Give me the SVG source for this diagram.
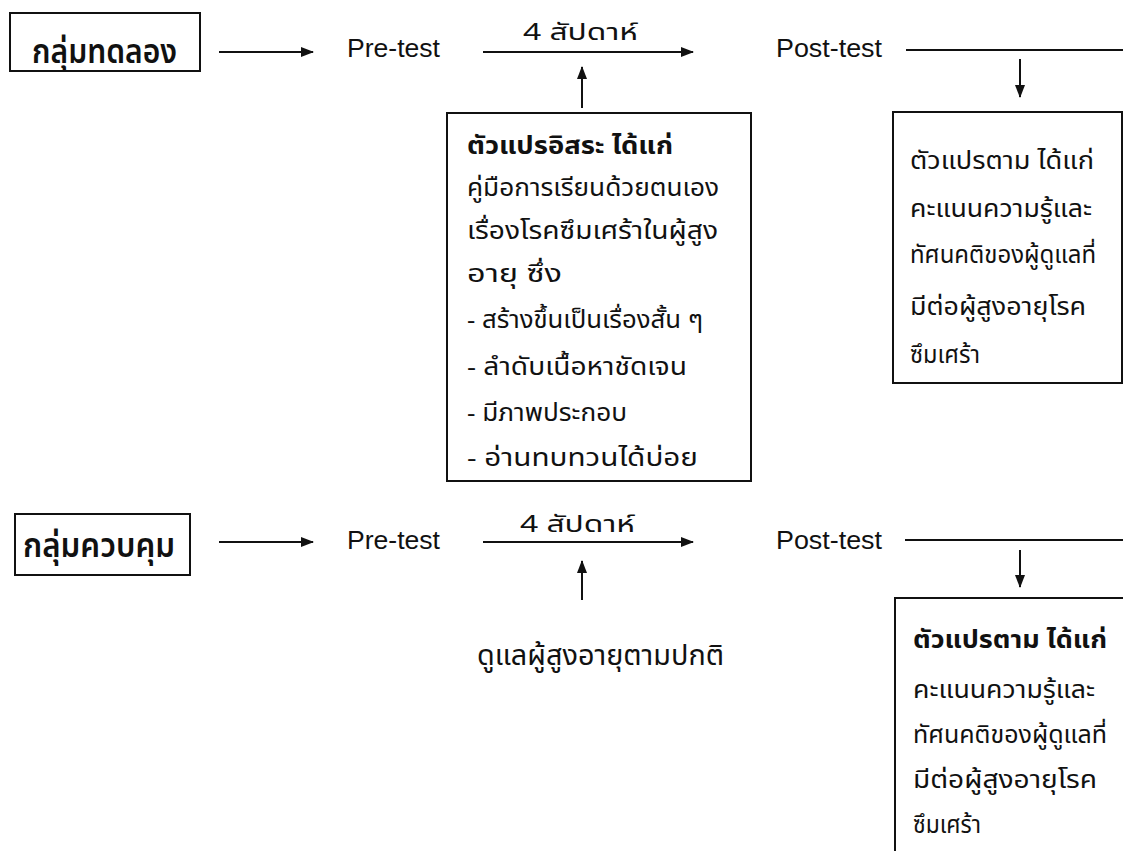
<svg xmlns="http://www.w3.org/2000/svg" width="1123" height="851" viewBox="0 0 1123 851">
<style>
.t{font-family:"Noto Sans Thai","Noto Sans","Liberation Sans","DejaVu Sans",sans-serif;fill:#111;}
.lat{font-family:"Liberation Sans",Arial,sans-serif;fill:#111;font-size:26px;}
.lbl{font-size:34px;font-weight:600;}
.b{font-size:24px;}
.bb{font-size:24px;font-weight:bold;}
.wk{font-size:23px;}
.box{fill:none;stroke:#111;stroke-width:2;}
.ln{fill:none;stroke:#111;stroke-width:2;}
.ar{fill:none;stroke:#111;stroke-width:2;marker-end:url(#ah);}
</style>
<defs>
<marker id="ah" markerUnits="userSpaceOnUse" markerWidth="13" markerHeight="10" refX="12" refY="5" orient="auto">
<path d="M0,0 L13,5 L0,10 Z" fill="#111"/>
</marker>
</defs>
<g id="connectors">
<line class="ar" x1="219" y1="52" x2="313" y2="52"/>
<line class="ar" x1="483" y1="52" x2="693" y2="52"/>
<line class="ar" x1="582" y1="108" x2="582" y2="67"/>
<line class="ln" x1="906" y1="50" x2="1123" y2="50"/>
<line class="ar" x1="1020" y1="59" x2="1020" y2="97"/>
<line class="ar" x1="219" y1="542" x2="313" y2="542"/>
<line class="ar" x1="483" y1="542" x2="693" y2="542"/>
<line class="ar" x1="582" y1="600" x2="582" y2="561"/>
<line class="ln" x1="905" y1="540" x2="1123" y2="540"/>
<line class="ar" x1="1020" y1="550" x2="1020" y2="587"/>
</g>
<g id="experimental-group">
<rect class="box" x="10" y="13" width="190" height="58"/>
<text class="t lbl" x="32" y="63" textLength="145" lengthAdjust="spacingAndGlyphs">กลุ่มทดลอง</text>
</g>
<g id="pretest-1"><text class="lat" x="347" y="57" textLength="93" lengthAdjust="spacingAndGlyphs">Pre-test</text></g>
<g id="weeks-1"><text class="t wk" x="523" y="40" textLength="115" lengthAdjust="spacingAndGlyphs">4  สัปดาห์</text></g>
<g id="posttest-1"><text class="lat" x="776" y="57" textLength="106" lengthAdjust="spacingAndGlyphs">Post-test</text></g>
<g id="independent-variable">
<rect class="box" x="447" y="113" width="304" height="368"/>
<text class="t bb" x="467" y="154" textLength="206" lengthAdjust="spacingAndGlyphs">ตัวแปรอิสระ  ได้แก่</text>
<text class="t b" x="467" y="196" textLength="252" lengthAdjust="spacingAndGlyphs">คู่มือการเรียนด้วยตนเอง</text>
<text class="t b" x="467" y="239" textLength="251" lengthAdjust="spacingAndGlyphs">เรื่องโรคซึมเศร้าในผู้สูง</text>
<text class="t b" x="467" y="282" textLength="95" lengthAdjust="spacingAndGlyphs">อายุ  ซึ่ง</text>
<text class="t b" x="467" y="328" textLength="236" lengthAdjust="spacingAndGlyphs">-  สร้างขึ้นเป็นเรื่องสั้น ๆ</text>
<text class="t b" x="467" y="375" textLength="220" lengthAdjust="spacingAndGlyphs">-  ลำดับเนื้อหาชัดเจน</text>
<text class="t b" x="467" y="421" textLength="160" lengthAdjust="spacingAndGlyphs">-  มีภาพประกอบ</text>
<text class="t b" x="467" y="466" textLength="231" lengthAdjust="spacingAndGlyphs">-  อ่านทบทวนได้บ่อย</text>
</g>
<g id="dependent-variable-1">
<rect class="box" x="893" y="112" width="229" height="271"/>
<text class="t b" x="910" y="169" textLength="184" lengthAdjust="spacingAndGlyphs">ตัวแปรตาม  ได้แก่</text>
<text class="t b" x="910" y="217" textLength="182" lengthAdjust="spacingAndGlyphs">คะแนนความรู้และ</text>
<text class="t b" x="910" y="263" textLength="186" lengthAdjust="spacingAndGlyphs">ทัศนคติของผู้ดูแลที่</text>
<text class="t b" x="910" y="315" textLength="176" lengthAdjust="spacingAndGlyphs">มีต่อผู้สูงอายุโรค</text>
<text class="t b" x="910" y="363" textLength="70" lengthAdjust="spacingAndGlyphs">ซึมเศร้า</text>
</g>
<g id="control-group">
<rect class="box" x="15" y="514" width="175" height="61"/>
<text class="t lbl" x="23" y="557" textLength="152" lengthAdjust="spacingAndGlyphs">กลุ่มควบคุม</text>
</g>
<g id="pretest-2"><text class="lat" x="347" y="549" textLength="93" lengthAdjust="spacingAndGlyphs">Pre-test</text></g>
<g id="weeks-2"><text class="t wk" x="520" y="532" textLength="115" lengthAdjust="spacingAndGlyphs">4  สัปดาห์</text></g>
<g id="posttest-2"><text class="lat" x="776" y="549" textLength="106" lengthAdjust="spacingAndGlyphs">Post-test</text></g>
<g id="usual-care"><text class="t" style="font-size:29px" x="477" y="665" textLength="247" lengthAdjust="spacingAndGlyphs">ดูแลผู้สูงอายุตามปกติ</text></g>
<g id="dependent-variable-2">
<rect class="box" x="895" y="598" width="240" height="300"/>
<text class="t bb" x="913" y="648" textLength="194" lengthAdjust="spacingAndGlyphs">ตัวแปรตาม  ได้แก่</text>
<text class="t b" x="913" y="698" textLength="182" lengthAdjust="spacingAndGlyphs">คะแนนความรู้และ</text>
<text class="t b" x="913" y="743" textLength="194" lengthAdjust="spacingAndGlyphs">ทัศนคติของผู้ดูแลที่</text>
<text class="t b" x="913" y="788" textLength="184" lengthAdjust="spacingAndGlyphs">มีต่อผู้สูงอายุโรค</text>
<text class="t b" x="913" y="833" textLength="68" lengthAdjust="spacingAndGlyphs">ซึมเศร้า</text>
</g>
</svg>
